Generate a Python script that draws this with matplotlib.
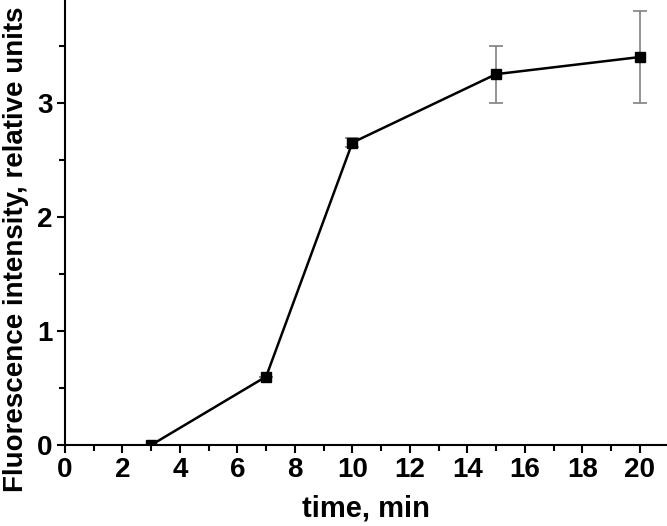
import matplotlib.pyplot as plt
from matplotlib.ticker import MultipleLocator

plt.rcParams['font.family'] = ['Liberation Sans', 'DejaVu Sans']

# data
time_min = [3, 7, 10, 15, 20]
intensity = [0.0, 0.6, 2.65, 3.25, 3.4]
err = [0.0, 0.0, 0.04, 0.25, 0.4]

fig = plt.figure(figsize=(6.67, 5.26), dpi=100)
ax = fig.add_axes([0.0975, 0.154, 0.9025, 0.846])

ax.errorbar(time_min, intensity, yerr=err, fmt='none', ecolor='#808080',
            elinewidth=1.2, capsize=5, capthick=1.2, zorder=1)
ax.plot(time_min, intensity, color='black', lw=1.8, marker='s', ms=7,
        mfc='black', mec='black', zorder=2)

ax.set_xlim(0, 20.95)
ax.set_ylim(0, 3.9)
ax.xaxis.set_major_locator(MultipleLocator(2))
ax.xaxis.set_minor_locator(MultipleLocator(1))
ax.yaxis.set_major_locator(MultipleLocator(1))
ax.yaxis.set_minor_locator(MultipleLocator(0.5))

for s in ['top', 'right']:
    ax.spines[s].set_visible(False)
for s in ['left', 'bottom']:
    ax.spines[s].set_linewidth(1.5)

ax.tick_params(which='major', length=6, width=1.5, labelsize=20, pad=3)
ax.tick_params(which='minor', length=4, width=1.5)
for lbl in ax.get_xticklabels() + ax.get_yticklabels():
    lbl.set_fontweight('bold')

ax.set_xlabel('time, min', fontsize=21, fontweight='bold', labelpad=8)
ax.set_ylabel('Fluorescence intensity, relative units', fontsize=20,
              fontweight='bold')
ax.yaxis.set_label_coords(-0.06, 0.44)

fig.savefig('out.png', dpi=100)
